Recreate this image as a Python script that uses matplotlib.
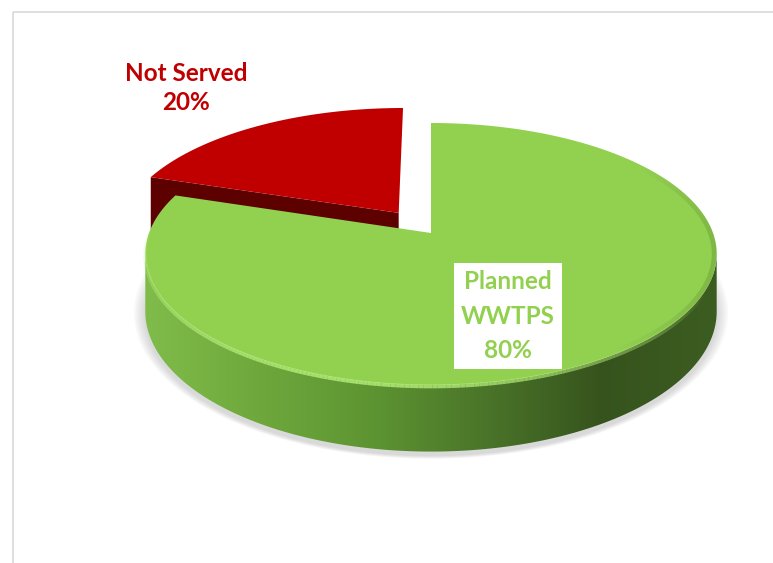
import numpy as np
import matplotlib.pyplot as plt
from matplotlib.patches import Polygon, Rectangle
from matplotlib.collections import LineCollection
from matplotlib.colors import LinearSegmentedColormap, to_rgb

plt.rcParams['font.family'] = ['Lato', 'DejaVu Sans']

# data
labels = ['Not Served', 'Planned\nWWTPS']
shares = [20, 80]
top_colors = ['#c00000', '#92d050']
side_colors = ['#5c0000', '#5e9834']
label_colors = ['#c00000', '#92d050']
explode = [0.2, 0]

# how the disc is seen: centre, radii, perspective, thickness (pixels)
CX, CY, A, B, P, DEPTH = 431, 233, 282, 127.6, 0.16, 56


def project(xy):
    xy = np.atleast_2d(xy)
    w = 1 + P * xy[:, 1]
    return np.column_stack([CX + A * xy[:, 0] / w, CY - B * xy[:, 1] / w])


def drop(xy):
    # same points on the underside of the disc
    xy = np.atleast_2d(xy)
    scr = project(xy)
    scr[:, 1] += DEPTH / (1 + P * xy[:, 1])
    return scr


def arc(c, t0, t1, n=200):
    t = np.radians(np.linspace(t0, t1, n))
    return np.column_stack([c[0] + np.cos(t), c[1] + np.sin(t)])


fracs = np.asarray(shares, float) / np.sum(shares)
edges = 90 + 360 * np.concatenate([[0], np.cumsum(fracs)])
slices = []
for i in range(len(shares)):
    t0, t1 = edges[i], edges[i + 1]
    mid = np.radians((t0 + t1) / 2)
    c = explode[i] * np.array([np.cos(mid), np.sin(mid)])
    slices.append((t0, t1, c))

delta = np.degrees(np.arcsin(P))  # where the side silhouette sits


def side_faces(t0, t1, c):
    faces = []
    for th, vis in ((t0, np.cos(np.radians(t0)) > 1e-6),
                    (t1, np.cos(np.radians(t1)) < -1e-6)):
        if vis:
            p = arc(c, th, th, 1)
            faces.append(np.vstack([project(c), project(p), drop(p), drop(c)]))
    for off in (0, 360):
        a, b = max(t0, 180 + delta + off), min(t1, 360 - delta + off)
        if b > a:
            rim = arc(c, a, b)
            faces.append(np.vstack([project(rim), drop(rim)[::-1]]))
    return faces


def fading_line(ax, pts, color, lw, peak, z, clip=None):
    segs = np.stack([pts[:-1], pts[1:]], axis=1)
    alpha = peak * np.sin(np.linspace(0, np.pi, len(segs)))
    cols = [(*to_rgb(color), a) for a in alpha]
    lc = LineCollection(segs, colors=cols, linewidths=lw, zorder=z,
                        capstyle='butt')
    ax.add_collection(lc)
    if clip is not None:
        lc.set_clip_path(clip)


fig = plt.figure(figsize=(7.73, 5.63), dpi=100)
ax = fig.add_axes([0, 0, 1, 1])

# soft shadow under the front of the disc
g0, g1, gc = slices[1]
under = drop(arc(gc, 165, 375))
mid_pt = np.array([CX, under[:, 1].mean()])
for s in np.linspace(1.004, 1.04, 7):
    ax.add_patch(Polygon(mid_pt + (under - mid_pt) * s + [0, 4], closed=True,
                         fc='#8c8c8c', ec='none', alpha=0.05, zorder=0.5))

wall_cmap = LinearSegmentedColormap.from_list(
    'wall', ['#80bc4a', '#6ea83c', '#5d9432', '#4a7429', '#36531d', '#3c5d21'])

for i, (t0, t1, c) in enumerate(slices):
    base = 2 + 2 * i
    for face in side_faces(t0, t1, c):
        if i == 1 and len(face) > 10:
            clip = Polygon(face, closed=True, fc='none', ec='none', zorder=base)
            ax.add_patch(clip)
            x0, x1 = face[:, 0].min(), face[:, 0].max()
            y0, y1 = face[:, 1].min(), face[:, 1].max()
            grad = np.linspace(0, 1, 256)[None, :]
            im = ax.imshow(grad, cmap=wall_cmap, extent=(x0, x1, y1, y0),
                           aspect='auto', zorder=base, interpolation='bicubic')
            im.set_clip_path(clip)
        else:
            ax.add_patch(Polygon(face, closed=True, fc=side_colors[i],
                                 ec='none', zorder=base))
    top = np.vstack([project(c), project(arc(c, t0, t1))])
    top_patch = Polygon(top, closed=True, fc=top_colors[i], ec='none',
                        zorder=base + 1)
    ax.add_patch(top_patch)
    if i == 1:
        # light bevel along the front rim, darker rim on the far right
        fading_line(ax, project(arc(c, 176, 335)) + [0, 1.5], '#b4ec78',
                    2.8, 0.85, base + 1.5)
        fading_line(ax, project(arc(c, 305, 395)), '#4f7a2a', 7, 0.28,
                    base + 1.4, clip=top_patch)

ax.set_xlim(0, 773)
ax.set_ylim(563, 0)
ax.axis('off')

# labels
ax.text(186, 88, f'{labels[0]}\n{shares[0]}%', ha='center', va='center',
        color=label_colors[0], fontsize=17.5, fontweight='bold',
        linespacing=1.36)
ax.text(508, 316, f'{labels[1]}\n{shares[1]}%', ha='center', va='center',
        color=label_colors[1], fontsize=17.5, fontweight='bold',
        linespacing=1.58, zorder=10,
        bbox=dict(boxstyle='square,pad=0.3', fc='white', ec='none'))

# chart area border
ax.add_patch(Rectangle((13, 12), 900, 700, fill=False, ec='#d9d9d9',
                       lw=1.2, zorder=0.2))

fig.savefig('out.png', dpi=100)
